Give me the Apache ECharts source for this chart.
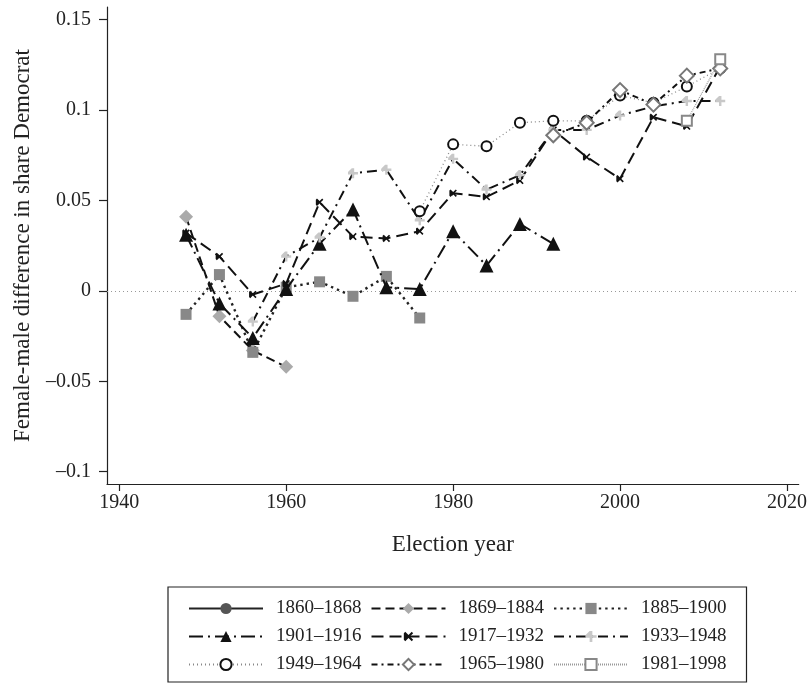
<!DOCTYPE html>
<html>
<head>
<meta charset="utf-8">
<script src="https://cdn.jsdelivr.net/npm/echarts@6/dist/echarts.min.js"></script>
<style>
html,body{margin:0;padding:0;background:#fff;}
#chart{width:810px;height:685px;}
</style>
</head>
<body>
<div id="chart"></div>
<script>
// Election years (x)
var years = [1948,1952,1956,1960,1964,1968,1972,1976,1980,1984,1988,1992,1996,2000,2004,2008,2012];
// Birth cohorts (legend)
var cohorts = ['1860–1868','1869–1884','1885–1900','1901–1916','1917–1932','1933–1948','1949–1964','1965–1980','1981–1998'];
// Female-male difference in share Democrat, per cohort (null = no data)
var c1860 = [null,null,null,null,null,null,null,null,null,null,null,null,null,null,null,null,null];
var c1869 = [0.041,-0.014,-0.033,-0.042,null,null,null,null,null,null,null,null,null,null,null,null,null];
var c1885 = [-0.013,0.009,-0.034,0.002,0.005,-0.003,0.008,-0.015,null,null,null,null,null,null,null,null,null];
var c1901 = [0.031,-0.007,-0.026,0.001,0.026,0.045,0.002,0.001,0.033,0.014,0.037,0.026,null,null,null,null,null];
var c1917 = [0.032,0.019,-0.002,0.004,0.049,0.030,0.029,0.033,0.054,0.052,0.061,0.089,0.074,0.062,0.096,0.091,0.124];
var c1933 = [null,null,-0.017,0.019,0.0295,0.065,0.067,0.039,0.073,0.056,0.064,0.089,0.089,0.097,0.102,0.105,0.105];
var c1949 = [null,null,null,null,null,null,null,0.044,0.081,0.080,0.093,0.094,0.094,0.108,0.104,0.113,0.123];
var c1965 = [null,null,null,null,null,null,null,null,null,null,null,0.086,0.093,0.111,0.103,0.119,0.123];
var c1981 = [null,null,null,null,null,null,null,null,null,null,null,null,null,null,null,0.094,0.128];
// Tick labels
var xTicks = [1940,1960,1980,2000,2020];
var yTicks = [-0.1,-0.05,0,0.05,0.1,0.15];

var values = [c1860,c1869,c1885,c1901,c1917,c1933,c1949,c1965,c1981];

var FONT = 'Liberation Serif';
var crossPath = 'path://M-0.9,-5H0.9V-0.9H5V0.9H0.9V5H-0.9V0.9H-5V-0.9Z';
var plusPath = 'path://M-1.2,-5H1.2V-1.2H5V1.2H1.2V5H-1.2V1.2H-5V-1.2Z';

var styles = [
  {symbol:'circle', size:9, item:{color:'#555'}, line:{color:'#222', width:1.6, type:'solid'}},
  {symbol:'diamond', size:14, item:{color:'#aaa'}, line:{color:'#111', width:2, type:[9,5]}},
  {symbol:'rect', size:11, item:{color:'#888'}, line:{color:'#222', width:2.4, type:[2.4,4]}},
  {symbol:'triangle', size:14, item:{color:'#111'}, line:{color:'#111', width:2, type:[14,5,2,5]}},
  {symbol:crossPath, size:9, rotate:45, item:{color:'#111'}, line:{color:'#111', width:2, type:[12,6]}},
  {symbol:plusPath, size:10, item:{color:'#c8c8c8'}, line:{color:'#111', width:2, type:[10,5,2,5]}},
  {symbol:'emptyCircle', size:10, item:{color:'#111', borderWidth:2.5}, line:{color:'#888', width:1.3, type:[1,3]}},
  {symbol:'emptyDiamond', size:14, item:{color:'#777', borderWidth:2}, line:{color:'#111', width:2, type:[6,4,2,4]}},
  {symbol:'emptyRect', size:10, item:{color:'#888', borderWidth:2}, line:{color:'#999', width:1.2, type:[1,1]}}
];

var series = cohorts.map(function(name, i){
  var st = styles[i];
  var data = [];
  for (var k = 0; k < years.length; k++) {
    if (values[i][k] !== null) data.push([years[k], values[i][k]]);
  }
  var s = {
    name: name,
    type: 'line',
    data: data,
    symbol: st.symbol,
    symbolSize: st.size,
    symbolRotate: st.rotate || 0,
    showAllSymbol: true,
    itemStyle: st.item,
    lineStyle: st.line,
    emphasis: {disabled: true},
    z: 2 + i
  };
  if (i === 0) {
    s.markLine = {
      silent: true,
      symbol: ['none','none'],
      label: {show:false},
      lineStyle: {color:'#999', width:1, type:[1,3]},
      data: [{yAxis: 0}],
      z: 1
    };
  }
  return s;
});

var chart = echarts.init(document.getElementById('chart'), null, {renderer:'canvas'});
chart.setOption({
  animation: false,
  backgroundColor: '#fff',
  grid: {left:107, top:7, width:692, height:477, containLabel:false},
  xAxis: {
    type: 'value',
    min: 1938.53,
    max: 2021.4,
    name: 'Election year',
    nameLocation: 'middle',
    nameGap: 49,
    nameTextStyle: {fontFamily:FONT, fontSize:23, color:'#222'},
    axisLine: {show:true, onZero:false, lineStyle:{color:'#222', width:1.2}},
    axisTick: {show:true, length:7, customValues: xTicks, lineStyle:{color:'#222', width:1.2}},
    axisLabel: {customValues: xTicks, fontFamily:FONT, fontSize:20, color:'#222', margin:9,
      formatter: function(v){ return String(v); }},
    splitLine: {show:false}
  },
  yAxis: {
    type: 'value',
    min: -0.1068,
    max: 0.15696,
    name: 'Female-male difference in share Democrat',
    nameLocation: 'middle',
    nameGap: 73,
    nameTextStyle: {fontFamily:FONT, fontSize:23, color:'#222'},
    axisLine: {show:true, onZero:false, lineStyle:{color:'#222', width:1.2}},
    axisTick: {show:true, length:8, customValues: yTicks, lineStyle:{color:'#222', width:1.2}},
    axisLabel: {
      customValues: yTicks, fontFamily:FONT, fontSize:20, color:'#222', margin:16,
      formatter: function(v){ return v < 0 ? '\u2013' + String(-v) : String(v); }
    },
    splitLine: {show:false}
  },
  legend: {
    data: cohorts,
    left: 168,
    top: 587,
    width: 545,
    orient: 'horizontal',
    padding: [12, 20, 8, 20],
    itemGap: 9,
    itemWidth: 74,
    itemHeight: 14,
    borderColor: '#222',
    borderWidth: 1.2,
    borderRadius: 0,
    selectedMode: false,
    textStyle: {fontFamily:FONT, fontSize:19, color:'#222', lineHeight:16, padding:[0,0,0,8]}
  },
  series: series
});
</script>
</body>
</html>
